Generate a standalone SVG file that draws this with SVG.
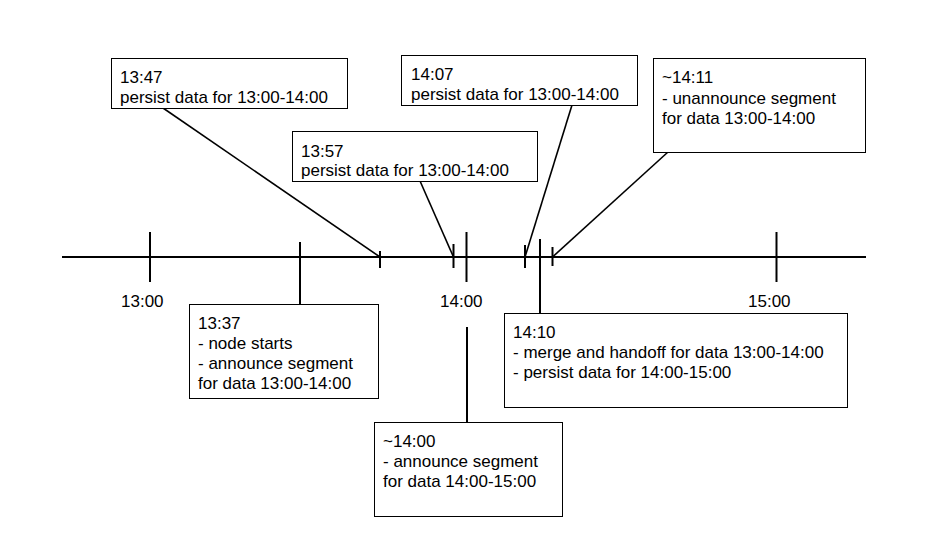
<svg xmlns="http://www.w3.org/2000/svg" width="926" height="548" viewBox="0 0 926 548">
<style>
text{font-family:"Liberation Sans",Arial,sans-serif;font-size:17px;fill:#000}
.box{fill:#fff;stroke:#000;stroke-width:1}
.ln{stroke:#000;stroke-width:2;fill:none}
.cn{stroke:#000;stroke-width:1.6;fill:none}
</style>
<rect width="926" height="548" fill="#fff"/>
<g id="axis">
<line class="ln" x1="62" y1="257" x2="866" y2="257"/>
<line class="ln" x1="150" y1="232" x2="150" y2="282"/>
<line class="ln" x1="466.5" y1="232" x2="466.5" y2="282"/>
<line class="ln" x1="776.5" y1="232" x2="776.5" y2="282"/>
<text x="121" y="307">13:00</text>
<text x="440" y="307">14:00</text>
<text x="748" y="307">15:00</text>
</g>
<g id="connectors">
<line class="ln" x1="300" y1="242" x2="300" y2="304"/>
<line class="ln" x1="380" y1="251" x2="380" y2="268"/>
<line class="cn" x1="163" y1="108" x2="380" y2="257"/>
<line class="ln" x1="453.5" y1="244" x2="453.5" y2="268"/>
<line class="cn" x1="420" y1="181" x2="453.5" y2="257"/>
<line class="ln" x1="525" y1="245" x2="525" y2="268"/>
<line class="cn" x1="572" y1="105" x2="525" y2="257"/>
<line class="ln" x1="540" y1="239" x2="540" y2="313"/>
<line class="ln" x1="552.5" y1="247" x2="552.5" y2="266"/>
<line class="cn" x1="668" y1="152" x2="552.5" y2="257"/>
<line class="ln" x1="467" y1="327" x2="467" y2="423"/>
</g>
<g id="n1347">
<rect class="box" x="111.5" y="58.5" width="236" height="50"/>
<text x="120" y="83">13:47</text>
<text x="120" y="103">persist data for 13:00-14:00</text>
</g>
<g id="n1357">
<rect class="box" x="292.5" y="131.5" width="245" height="50"/>
<text x="301" y="157">13:57</text>
<text x="301" y="176">persist data for 13:00-14:00</text>
</g>
<g id="n1407">
<rect class="box" x="401.5" y="55.5" width="236" height="50"/>
<text x="411" y="80">14:07</text>
<text x="411" y="100">persist data for 13:00-14:00</text>
</g>
<g id="n1411">
<rect class="box" x="653.5" y="58.5" width="212" height="94"/>
<text x="662" y="83">~14:11</text>
<text x="662" y="104">- unannounce segment</text>
<text x="662" y="124">for data 13:00-14:00</text>
</g>
<g id="n1337">
<rect class="box" x="189.5" y="304.5" width="189" height="94"/>
<text x="198" y="329">13:37</text>
<text x="198" y="349">- node starts</text>
<text x="198" y="369">- announce segment</text>
<text x="198" y="389">for data 13:00-14:00</text>
</g>
<g id="n1410">
<rect class="box" x="504.5" y="313.5" width="343" height="94"/>
<text x="513" y="338">14:10</text>
<text x="513" y="358">- merge and handoff for data 13:00-14:00</text>
<text x="513" y="378">- persist data for 14:00-15:00</text>
</g>
<g id="n1400">
<rect class="box" x="374.5" y="422.5" width="188" height="94"/>
<text x="383" y="447">~14:00</text>
<text x="383" y="467">- announce segment</text>
<text x="383" y="487">for data 14:00-15:00</text>
</g>
</svg>
